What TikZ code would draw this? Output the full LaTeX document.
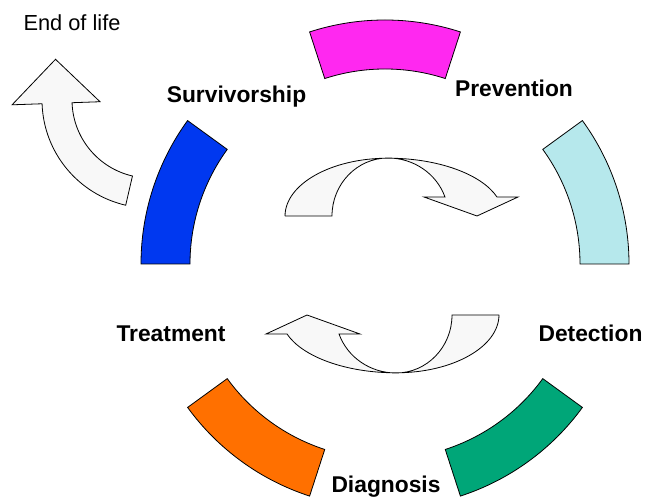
\documentclass[tikz,border=0pt]{standalone}
\usepackage{fontspec}
\setmainfont{Liberation Sans}
\definecolor{segMagenta}{RGB}{255,40,240}
\definecolor{segCyan}{RGB}{182,232,236}
\definecolor{segGreen}{RGB}{0,166,120}
\definecolor{segOrange}{RGB}{255,112,0}
\definecolor{segBlue}{RGB}{0,56,240}
\definecolor{arrowFill}{RGB}{248,248,248}
\tikzset{
  ringseg/.style={draw=black, line width=0.8pt, line join=miter},
  blockarrow/.style={draw=black, line width=0.8pt, fill=arrowFill, line join=miter},
  stage/.style={font=\fontsize{22.8}{24}\selectfont\bfseries, anchor=base, inner sep=0pt},
  plainlabel/.style={font=\fontsize{21.8}{24}\selectfont, anchor=base, inner sep=0pt},
}
\begin{document}
\begin{tikzpicture}[x=1pt,y=1pt]
\useasboundingbox (0,0) rectangle (645,498);

% five coloured ring segments around the cycle centre
\begin{scope}[shift={(385,234)}]
  \path[ringseg, fill=segMagenta] (72:244) arc[start angle=72, end angle=108, radius=244]
     -- (108:195) arc[start angle=108, end angle=72, radius=195] -- cycle;
  \path[ringseg, fill=segCyan] (0:244) arc[start angle=0, end angle=36, radius=244]
     -- (36:195) arc[start angle=36, end angle=0, radius=195] -- cycle;
  \path[ringseg, fill=segGreen] (-72:244) arc[start angle=-72, end angle=-36, radius=244]
     -- (-36:195) arc[start angle=-36, end angle=-72, radius=195] -- cycle;
  \path[ringseg, fill=segOrange] (-144:244) arc[start angle=-144, end angle=-108, radius=244]
     -- (-108:195) arc[start angle=-108, end angle=-144, radius=195] -- cycle;
  \path[ringseg, fill=segBlue] (144:244) arc[start angle=144, end angle=180, radius=244]
     -- (180:195) arc[start angle=180, end angle=144, radius=195] -- cycle;
\end{scope}

% curved arrow over the top of the cycle
\path[blockarrow] (285,282) -- (332,282)
   arc[start angle=180, end angle=90, x radius=56, y radius=58]
   arc[start angle=90, end angle=19.1, x radius=60.3, y radius=58]
   -- (424,301) -- (477,282) -- (518,301) -- (497,301)
   arc[start angle=18.6, end angle=90, x radius=115, y radius=57]
   arc[start angle=90, end angle=180, x radius=103, y radius=58] -- cycle;

% the same arrow turned round underneath
\begin{scope}[rotate around={180:(392,232.5)}]
\path[blockarrow] (285,282) -- (332,282)
   arc[start angle=180, end angle=90, x radius=56, y radius=58]
   arc[start angle=90, end angle=19.1, x radius=60.3, y radius=58]
   -- (424,301) -- (477,282) -- (518,301) -- (497,301)
   arc[start angle=18.6, end angle=90, x radius=115, y radius=57]
   arc[start angle=90, end angle=180, x radius=103, y radius=58] -- cycle;
\end{scope}

% exit arrow towards end of life
\begin{scope}[shift={(150,398)}]
\path[blockarrow] (257:108) -- (257:78)
   arc[start angle=257, end angle=182, radius=78]
   -- (182:50) -- (-94.5,40.7) -- (182:138) -- (182:108)
   arc[start angle=182, end angle=257, radius=108] -- cycle;
\end{scope}

% labels
\node[plainlabel] (endlife) at (72,467) {End of life};
\node[stage] (surv) at (236.5,395) {Survivorship};
\node[stage] (prev) at (514,401) {Prevention};
\node[stage] (det) at (590.5,156) {Detection};
\node[stage] (treat) at (171,156) {Treatment};
\node[stage] (diag) at (386,5.5) {Diagnosis};
\end{tikzpicture}
\end{document}
